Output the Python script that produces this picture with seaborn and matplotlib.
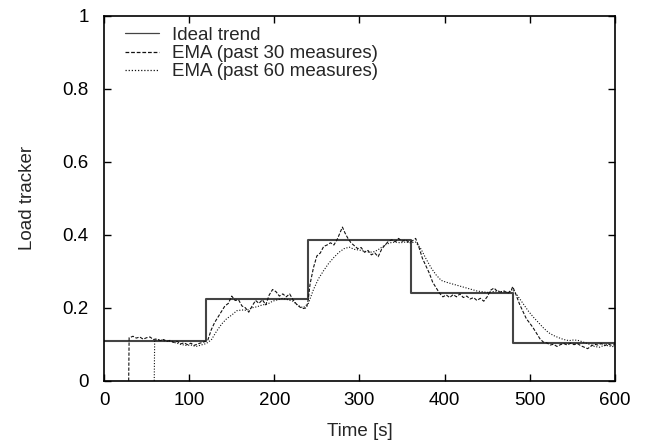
import matplotlib
matplotlib.use("Agg")
import matplotlib.pyplot as plt
import seaborn as sns
import pandas as pd

ideal_t = [0, 120, 240, 360, 480, 600]
ideal_v = [0.108, 0.223, 0.386, 0.241, 0.104, 0.104]

ema30_t = [29, 29.5, 30, 34, 38, 42, 46, 50, 54, 58, 62, 66, 70, 74, 78, 82, 86, 90, 94, 98,
           102, 106, 110, 114, 118, 122, 126, 130, 134, 138, 142, 146, 150, 154, 158, 162,
           166, 170, 174, 178, 182, 186, 190, 194, 198, 202, 206, 210, 214, 218, 222, 226,
           230, 234, 238, 240, 242, 246, 250, 254, 258, 262, 266, 270, 274, 278, 280, 283,
           286, 290, 294, 298, 302, 306, 310, 314, 318, 322, 326, 330, 334, 338, 342, 346,
           350, 354, 358, 362, 366, 370, 374, 378, 382, 386, 390, 394, 398, 402, 406, 410,
           414, 418, 422, 426, 430, 434, 438, 442, 446, 450, 454, 458, 462, 466, 470, 474,
           478, 480, 484, 488, 492, 496, 500, 504, 508, 512, 516, 520, 524, 528, 532, 536,
           540, 544, 548, 552, 556, 560, 564, 568, 572, 576, 580, 584, 588, 592, 596, 600]
ema30_v = [0.0, 0.118, 0.118, 0.122, 0.117, 0.120, 0.114, 0.118, 0.120, 0.113, 0.115, 0.110,
           0.113, 0.108, 0.111, 0.105, 0.108, 0.101, 0.104, 0.099, 0.103, 0.097, 0.101, 0.104,
           0.107, 0.112, 0.140, 0.160, 0.175, 0.190, 0.205, 0.212, 0.232, 0.220, 0.222, 0.205,
           0.200, 0.188, 0.205, 0.220, 0.212, 0.222, 0.208, 0.235, 0.250, 0.244, 0.232, 0.238,
           0.230, 0.238, 0.222, 0.210, 0.202, 0.198, 0.200, 0.225, 0.265, 0.310, 0.342, 0.350,
           0.368, 0.372, 0.378, 0.372, 0.388, 0.410, 0.421, 0.405, 0.392, 0.378, 0.370, 0.362,
           0.365, 0.352, 0.357, 0.345, 0.350, 0.340, 0.360, 0.372, 0.382, 0.386, 0.381, 0.390,
           0.382, 0.386, 0.380, 0.383, 0.390, 0.365, 0.335, 0.315, 0.295, 0.270, 0.255, 0.240,
           0.230, 0.235, 0.228, 0.236, 0.230, 0.238, 0.228, 0.232, 0.224, 0.228, 0.220, 0.226,
           0.218, 0.230, 0.248, 0.254, 0.245, 0.243, 0.246, 0.240, 0.246, 0.258, 0.235, 0.210,
           0.190, 0.170, 0.158, 0.145, 0.130, 0.115, 0.106, 0.104, 0.098, 0.100, 0.094, 0.099,
           0.102, 0.098, 0.103, 0.099, 0.102, 0.096, 0.092, 0.088, 0.095, 0.100, 0.098, 0.102,
           0.096, 0.101, 0.097, 0.099]

ema60_t = [59, 59.5, 60, 66, 72, 78, 84, 90, 96, 102, 108, 114, 120, 126, 132, 138, 144, 150,
           156, 162, 168, 174, 180, 186, 192, 198, 204, 210, 216, 222, 228, 234, 240, 246,
           252, 258, 264, 270, 276, 282, 288, 294, 300, 306, 312, 318, 324, 330, 336, 342,
           348, 354, 360, 366, 372, 378, 384, 390, 396, 402, 408, 414, 420, 426, 432, 438,
           444, 450, 456, 462, 468, 474, 480, 486, 492, 498, 504, 510, 516, 522, 528, 534,
           540, 546, 552, 558, 564, 570, 576, 582, 588, 594, 600]
ema60_v = [0.0, 0.112, 0.112, 0.112, 0.109, 0.108, 0.104, 0.100, 0.097, 0.098, 0.094, 0.098,
           0.102, 0.112, 0.135, 0.155, 0.170, 0.180, 0.192, 0.194, 0.193, 0.200, 0.203, 0.208,
           0.210, 0.218, 0.222, 0.226, 0.222, 0.218, 0.206, 0.200, 0.212, 0.250, 0.280, 0.302,
           0.322, 0.338, 0.352, 0.362, 0.366, 0.360, 0.358, 0.355, 0.352, 0.354, 0.362, 0.372,
           0.378, 0.380, 0.378, 0.380, 0.378, 0.380, 0.362, 0.335, 0.310, 0.290, 0.275, 0.270,
           0.266, 0.262, 0.258, 0.254, 0.250, 0.246, 0.244, 0.242, 0.244, 0.246, 0.244, 0.242,
           0.250, 0.232, 0.212, 0.192, 0.175, 0.160, 0.145, 0.132, 0.124, 0.118, 0.113, 0.110,
           0.112, 0.110, 0.105, 0.100, 0.094, 0.092, 0.098, 0.095, 0.093]

sns.set_style("ticks")
plt.rcParams['font.family'] = ['Liberation Sans', 'DejaVu Sans']

FS = 13.5
fig = plt.figure(figsize=(6.5, 4.48), dpi=100)
ax = fig.add_axes([0.16, 0.15, 0.786, 0.815])

df_ideal = pd.DataFrame({"t": ideal_t, "v": ideal_v})
df30 = pd.DataFrame({"t": ema30_t, "v": ema30_v})
df60 = pd.DataFrame({"t": ema60_t, "v": ema60_v})

sns.lineplot(data=df_ideal, x="t", y="v", ax=ax, color="#444444", lw=1.5,
             drawstyle="steps-post", label="Ideal trend", sort=False)
sns.lineplot(data=df30, x="t", y="v", ax=ax, color="#111111", lw=0.8,
             label="EMA (past 30 measures)", sort=False)
sns.lineplot(data=df60, x="t", y="v", ax=ax, color="#111111", lw=0.8,
             label="EMA (past 60 measures)", sort=False)
ax.lines[1].set_dashes([3, 1.5])
ax.lines[2].set_dashes([1, 1.5])

ax.set_xlim(0, 600)
ax.set_ylim(0, 1)
ax.set_xticks([0, 100, 200, 300, 400, 500, 600])
ax.set_yticks([0, 0.2, 0.4, 0.6, 0.8, 1])
ax.set_yticklabels(["0", "0.2", "0.4", "0.6", "0.8", "1"])
ax.tick_params(direction="in", top=True, right=True, length=5, width=1,
               labelsize=FS, colors="black")
ax.tick_params(axis="x", pad=8)
ax.tick_params(axis="y", pad=11)
for s in ax.spines.values():
    s.set_visible(True)
    s.set_linewidth(1.2)
    s.set_color("black")
ax.set_xlabel("Time [s]", fontsize=FS, labelpad=10)
ax.set_ylabel("Load tracker", fontsize=FS, labelpad=19)

leg = ax.legend(loc="upper left", frameon=False, fontsize=FS, handlelength=1.8,
                handletextpad=0.7, labelspacing=0.05, borderaxespad=0.2,
                bbox_to_anchor=(0.02, 1.0))
for h in leg.get_lines():
    h.set_linewidth(0.9)

fig.savefig("out.png", dpi=100)
